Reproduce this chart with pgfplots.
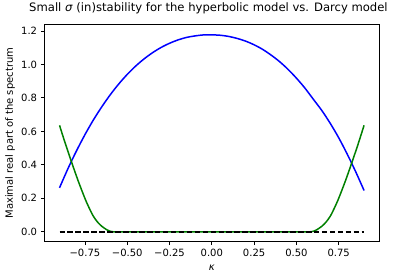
\documentclass[border=0pt]{standalone}
\usepackage{fontspec}
\setmainfont{DejaVu Sans}
\usepackage{pgfplots}
\pgfplotsset{compat=1.18}
\begin{document}
\fontsize{10}{12}\selectfont
\begin{tikzpicture}
\begin{axis}[
 scale only axis, width=335pt, height=217pt,
 xmin=-0.99, xmax=0.99, ymin=-0.0589, ymax=1.2371,
 axis line style={line width=0.8pt, black},
 tick align=outside, major tick length=3.5pt,
 tick style={line width=0.8pt, black},
 xtick={-0.75,-0.5,-0.25,0,0.25,0.5,0.75},
 xticklabels={−0.75,−0.50,−0.25,0.00,0.25,0.50,0.75},
 ytick={0,0.2,0.4,0.6,0.8,1.0,1.2},
 yticklabels={0.0,0.2,0.4,0.6,0.8,1.0,1.2},
 xtick pos=lower, ytick pos=left,
 ticklabel style={font=\fontsize{10}{12}\selectfont, inner sep=0pt},
 xticklabel shift=3.5pt, yticklabel shift=3.5pt,
 title={Small \textit{σ} (in)stability for the hyperbolic model vs. Darcy model},
 title style={font=\fontsize{11.6}{14}\selectfont, inner sep=0pt, anchor=center, at={(axis description cs:0.49,1.0479)}},
 xlabel={\textit{κ}},
 xlabel style={font=\fontsize{10}{12}\selectfont, inner sep=0pt, anchor=center, at={(axis description cs:0.5,-0.1212)}},
 ylabel={Maximal real part of the spectrum},
 ylabel style={font=\fontsize{10}{12}\selectfont, inner sep=0pt, anchor=center, at={(axis description cs:-0.1024,0.5)}},
 clip=false,
]
\coordinate (sw) at (rel axis cs:0,0);
\addplot[blue, line width=1.5pt, smooth] coordinates {
(-0.90,0.263) (-0.85,0.378) (-0.80,0.483) (-0.75,0.580) (-0.70,0.668)
(-0.65,0.747) (-0.60,0.819) (-0.55,0.883) (-0.50,0.940) (-0.45,0.990)
(-0.40,1.033) (-0.35,1.070) (-0.30,1.101) (-0.25,1.126) (-0.20,1.146)
(-0.15,1.161) (-0.10,1.170) (-0.05,1.176) (-0.01,1.177) (0.05,1.174)
(0.10,1.167) (0.15,1.155) (0.20,1.139) (0.25,1.117) (0.30,1.090)
(0.35,1.056) (0.40,1.017) (0.45,0.971) (0.50,0.918) (0.55,0.859)
(0.60,0.792) (0.65,0.725) (0.70,0.648) (0.75,0.562) (0.80,0.465)
(0.85,0.360) (0.90,0.247)
};
\addplot[color={rgb,1:red,0;green,0.5;blue,0}, line width=1.5pt, smooth] coordinates {
(-0.900,0.636) (-0.865,0.525) (-0.830,0.420) (-0.790,0.305) (-0.750,0.200)
(-0.725,0.143) (-0.700,0.093) (-0.675,0.058) (-0.650,0.033) (-0.620,0.012)
(-0.600,0.003) (-0.580,0.0) (-0.50,0.0) (0.50,0.0) (0.580,0.0)
(0.600,0.003) (0.620,0.012) (0.650,0.033) (0.675,0.058) (0.700,0.093)
(0.725,0.143) (0.750,0.200) (0.790,0.305) (0.830,0.420) (0.865,0.525)
(0.900,0.636)
};
\addplot[black, line width=1.5pt, dash pattern=on 5.55pt off 2.4pt] coordinates {(-0.9,0) (0.9,0)};
\end{axis}
\pgfresetboundingbox
\path (sw) ++(-44.3pt,-38.3pt) rectangle ++(404pt,280pt);
\end{tikzpicture}
\end{document}
